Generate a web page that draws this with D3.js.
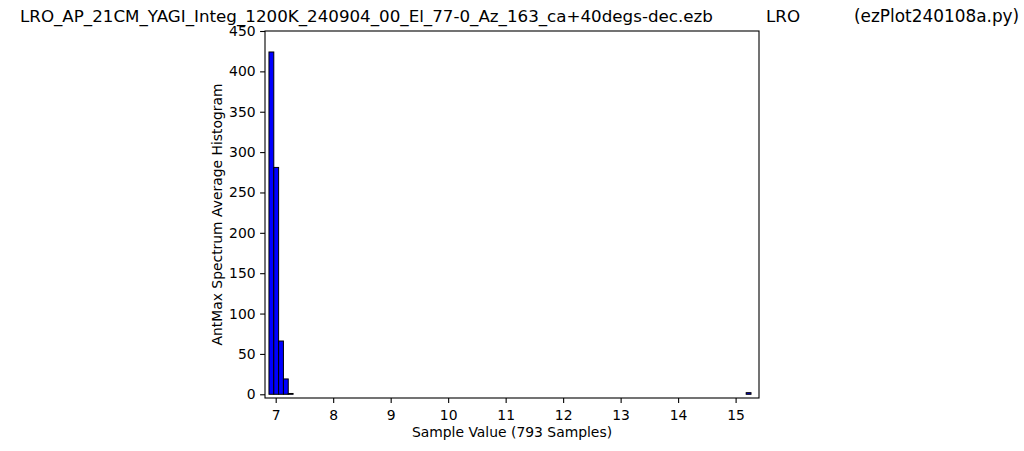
<!DOCTYPE html>
<html><head><meta charset="utf-8">
<script src="https://cdn.jsdelivr.net/npm/d3@7"></script>
<style>body{margin:0;background:#fff}svg{display:block;font-family:"DejaVu Sans",sans-serif}</style>
</head><body>
<svg id="c" width="1024" height="451"></svg>
<script>
// Histogram: 100 bins between min and max sample value
const binMin = 6.883, binMax = 15.268, binCount = 100;
// counts per bin (non-zero bins listed by index, others zero)
const binIndex = [0, 1, 2, 3, 4, 99];
const binValues = [424, 281, 66, 19, 1, 2];
const xTicks = [7, 8, 9, 10, 11, 12, 13, 14, 15];
const yTicks = [0, 50, 100, 150, 200, 250, 300, 350, 400, 450];
const titleMain = "LRO_AP_21CM_YAGI_Integ_1200K_240904_00_El_77-0_Az_163_ca+40degs-dec.ezb";
const titleMid = "LRO";
const titleRight = "(ezPlot240108a.py)";
const xLabel = "Sample Value (793 Samples)";
const yLabel = "AntMax Spectrum Average Histogram";

const svg = d3.select("#c");
const L = 265, R = 759, T = 31, B = 398;
const x = d3.scaleLinear().domain([6.814, 15.407]).range([L, R]);
const y = d3.scaleLinear().domain([-4.6, 450]).range([B, T]);

const w = (binMax - binMin) / binCount;
const bins = d3.range(binCount).map(i => {
  const k = binIndex.indexOf(i);
  return {x0: binMin + i * w, x1: binMin + (i + 1) * w, v: k >= 0 ? binValues[k] : 0};
});

svg.append("g").selectAll("rect").data(bins).join("rect")
  .attr("x", d => x(d.x0)).attr("width", d => x(d.x1) - x(d.x0))
  .attr("y", d => y(d.v)).attr("height", d => Math.max(0, y(0) - y(d.v)))
  .attr("fill", "#0000ff").attr("stroke", "#000").attr("stroke-width", 1);

const xa = svg.append("g").attr("transform", `translate(0,${B})`)
  .call(d3.axisBottom(x).tickValues(xTicks).tickFormat(d3.format("d")).tickSize(4.9).tickPadding(7));
const ya = svg.append("g").attr("transform", `translate(${L},0)`)
  .call(d3.axisLeft(y).tickValues(yTicks).tickFormat(d3.format("d")).tickSize(4.9).tickPadding(4.5));
[xa, ya].forEach(a => {
  a.select(".domain").remove();
  a.selectAll("text").attr("font-size", 13.9).attr("fill", "#000").attr("font-family", "DejaVu Sans");
  a.selectAll("line").attr("stroke", "#000").attr("stroke-width", 1.1);
});

svg.append("rect").attr("x", L).attr("y", T).attr("width", R - L).attr("height", B - T)
  .attr("fill", "none").attr("stroke", "#000").attr("stroke-width", 1.1);

svg.append("text").attr("x", (L + R) / 2).attr("y", 437).attr("text-anchor", "middle")
  .attr("font-size", 13.9).text(xLabel);
svg.append("text").attr("transform", `translate(221.5,${(T + B) / 2}) rotate(-90)`)
  .attr("text-anchor", "middle").attr("font-size", 13.9).text(yLabel);

svg.append("text").attr("x", 20).attr("y", 21.5).attr("font-size", 16.7).text(titleMain);
svg.append("text").attr("x", 766).attr("y", 21.5).attr("font-size", 16.7).text(titleMid);
svg.append("text").attr("x", 854).attr("y", 21.5).attr("font-size", 16.9).text(titleRight);
</script>
</body></html>
